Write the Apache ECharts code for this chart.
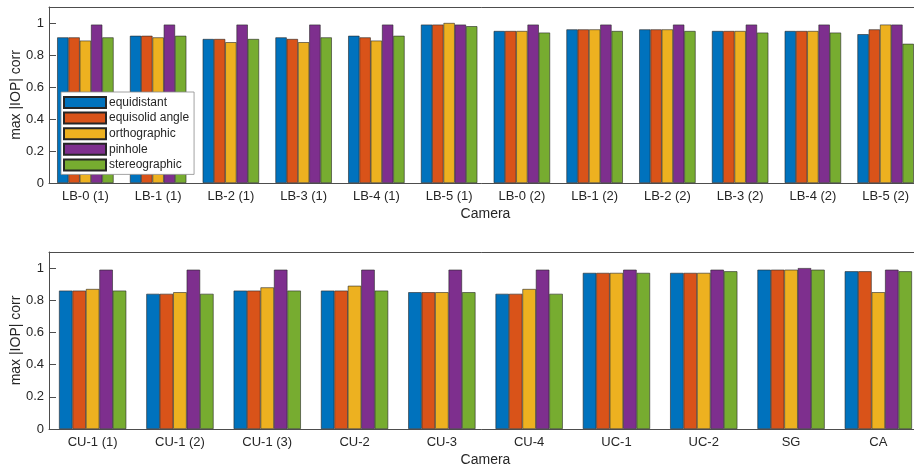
<!DOCTYPE html>
<html>
<head>
<meta charset="utf-8">
<script src="https://cdn.jsdelivr.net/npm/echarts@6/dist/echarts.min.js"></script>
<style>
html,body{margin:0;padding:0;background:#fff;}
#c{width:914px;height:471px;}
</style>
</head>
<body>
<div id="c"></div>
<script>
const seriesNames = ['equidistant', 'equisolid angle', 'orthographic', 'pinhole', 'stereographic'];
const colors = ['#0072BD', '#D95319', '#EDB120', '#7E2F8E', '#77AC30'];
const yTicks = [0, 0.2, 0.4, 0.6, 0.8, 1];

const topCategories = ['LB-0 (1)', 'LB-1 (1)', 'LB-2 (1)', 'LB-3 (1)', 'LB-4 (1)', 'LB-5 (1)',
  'LB-0 (2)', 'LB-1 (2)', 'LB-2 (2)', 'LB-3 (2)', 'LB-4 (2)', 'LB-5 (2)'];
const topEquidistant   = [0.91, 0.92, 0.90, 0.91, 0.92, 0.99, 0.95, 0.96, 0.96, 0.95, 0.95, 0.93];
const topEquisolid     = [0.91, 0.92, 0.90, 0.90, 0.91, 0.99, 0.95, 0.96, 0.96, 0.95, 0.95, 0.96];
const topOrthographic  = [0.89, 0.91, 0.88, 0.88, 0.89, 1.00, 0.95, 0.96, 0.96, 0.95, 0.95, 0.99];
const topPinhole       = [0.99, 0.99, 0.99, 0.99, 0.99, 0.99, 0.99, 0.99, 0.99, 0.99, 0.99, 0.99];
const topStereographic = [0.91, 0.92, 0.90, 0.91, 0.92, 0.98, 0.94, 0.95, 0.95, 0.94, 0.94, 0.87];

const bottomCategories = ['CU-1 (1)', 'CU-1 (2)', 'CU-1 (3)', 'CU-2', 'CU-3', 'CU-4', 'UC-1', 'UC-2', 'SG', 'CA'];
const botEquidistant   = [0.86, 0.84, 0.86, 0.86, 0.85, 0.84, 0.97, 0.97, 0.99, 0.98];
const botEquisolid     = [0.86, 0.84, 0.86, 0.86, 0.85, 0.84, 0.97, 0.97, 0.99, 0.98];
const botOrthographic  = [0.87, 0.85, 0.88, 0.89, 0.85, 0.87, 0.97, 0.97, 0.99, 0.85];
const botPinhole       = [0.99, 0.99, 0.99, 0.99, 0.99, 0.99, 0.99, 0.99, 1.00, 0.99];
const botStereographic = [0.86, 0.84, 0.86, 0.86, 0.85, 0.84, 0.97, 0.98, 0.99, 0.98];

const topData = [topEquidistant, topEquisolid, topOrthographic, topPinhole, topStereographic];
const botData = [botEquidistant, botEquisolid, botOrthographic, botPinhole, botStereographic];

const FONT = '"Liberation Sans", Arial, Helvetica, sans-serif';
const AX = '#4d4d4d';
const TXT = '#262626';

function xAxes(cats, gridIndex) {
  return [
    {
      type: 'category', gridIndex, data: cats, position: 'bottom', z: 5,
      axisLine: { lineStyle: { color: AX, width: 1 } },
      axisTick: { inside: true, alignWithLabel: true, length: 7, lineStyle: { color: AX } },
      axisLabel: { color: TXT, fontSize: 13, fontFamily: FONT, margin: 7, interval: 0 },
      name: 'Camera', nameLocation: 'middle', nameGap: 24,
      nameTextStyle: { color: TXT, fontSize: 14, fontFamily: FONT }
    },
    {
      type: 'category', gridIndex, data: cats, position: 'top', z: 5,
      axisLine: { lineStyle: { color: AX, width: 1 } },
      axisTick: { inside: true, alignWithLabel: true, length: 7, lineStyle: { color: AX } },
      axisLabel: { show: false }
    }
  ];
}
function yAxis(gridIndex) {
  return {
    type: 'value', gridIndex, min: 0, max: 1.1, interval: 0.2,
    axisLine: { show: true, lineStyle: { color: AX, width: 1 } },
    axisTick: { show: true, inside: true, length: 7, lineStyle: { color: AX } },
    splitLine: { show: false },
    axisLabel: { color: TXT, fontSize: 13, fontFamily: FONT, margin: 5, showMaxLabel: false,
      formatter: v => (yTicks.some(t => Math.abs(t - v) < 1e-9) ? String(+v.toFixed(1)) : '') },
    name: 'max |IOP| corr', nameLocation: 'middle', nameGap: 26, nameMoveOverlap: false,
    nameTextStyle: { color: TXT, fontSize: 14, fontFamily: FONT }
  };
}

const series = [];
seriesNames.forEach((n, i) => {
  series.push({
    name: n, type: 'bar', xAxisIndex: 0, yAxisIndex: 0, data: topData[i],
    barGap: 0, barCategoryGap: '22.5%',
    itemStyle: { color: colors[i], borderColor: '#262626', borderWidth: 0.6 }
  });
});
seriesNames.forEach((n, i) => {
  series.push({
    name: n, type: 'bar', xAxisIndex: 2, yAxisIndex: 1, data: botData[i],
    barGap: 0, barCategoryGap: '23%',
    itemStyle: { color: colors[i], borderColor: '#262626', borderWidth: 0.6 }
  });
});

const chart = echarts.init(document.getElementById('c'), null, { renderer: 'canvas' });
chart.setOption({
  animation: false,
  backgroundColor: '#fff',
  textStyle: { fontFamily: FONT },
  grid: [
    { left: 49, top: 7, width: 873, height: 176, containLabel: false, outerBoundsMode: 'none' },
    { left: 49, top: 252, width: 873, height: 177, containLabel: false, outerBoundsMode: 'none' }
  ],
  xAxis: [...xAxes(topCategories, 0), ...xAxes(bottomCategories, 1)],
  yAxis: [yAxis(0), yAxis(1)],
  legend: {
    data: seriesNames, orient: 'vertical', left: 61, top: 92, z: 10,
    backgroundColor: '#fff', borderColor: '#8c8c8c', borderWidth: 0.8,
    padding: [4, 5, 3, 2], itemGap: 2.6, itemWidth: 42, itemHeight: 11, icon: 'rect',
    selectedMode: false,
    textStyle: { color: TXT, fontSize: 12, fontFamily: FONT, lineHeight: 13, padding: [0, 0, 0, -2] }
  },
  series
});
</script>
</body>
</html>
